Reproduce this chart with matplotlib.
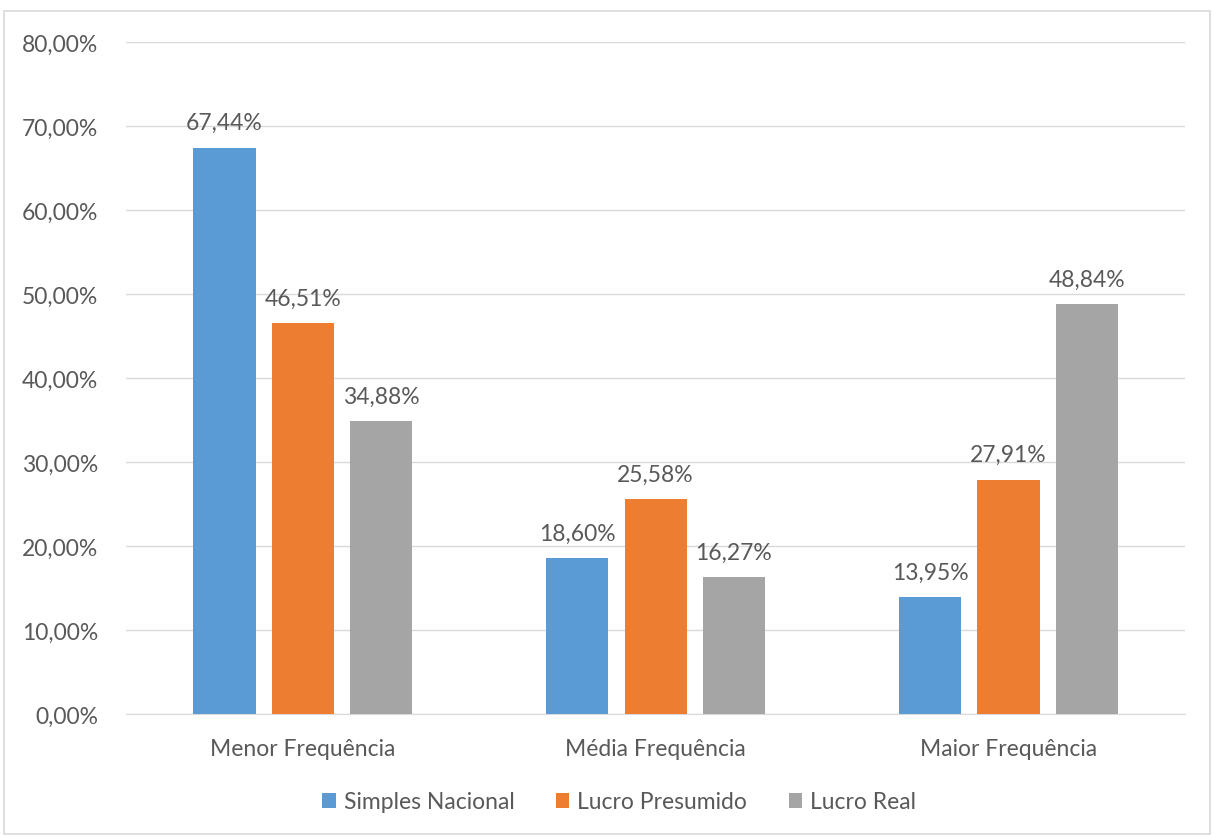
import matplotlib.pyplot as plt
import numpy as np
from matplotlib.patches import Rectangle
from matplotlib.ticker import FuncFormatter

plt.rcParams['font.family'] = ['Lato', 'DejaVu Sans']

# Data
categories = ['Menor Frequência', 'Média Frequência', 'Maior Frequência']
series_names = ['Simples Nacional', 'Lucro Presumido', 'Lucro Real']
simples = [67.44, 18.60, 13.95]
presumido = [46.51, 25.58, 27.91]
real = [34.88, 16.27, 48.84]
colors = ['#5B9BD5', '#ED7D31', '#A5A5A5']

text_color = '#595959'
fs = 16.5

fig = plt.figure(figsize=(12.14, 8.37), dpi=100)
# chart border
fig.patches.append(Rectangle((4 / 1214, 2 / 837), 1206 / 1214, 823 / 837,
                             transform=fig.transFigure, fill=False,
                             edgecolor='#D9D9D9', linewidth=1.2))

ax = fig.add_axes([0.1040, 0.1458, 0.8721, 0.8028])

x = np.arange(len(categories))
width = 0.176
step = 0.2216
for i, (vals, name) in enumerate(zip([simples, presumido, real], series_names)):
    pos = x + (i - 1) * step
    bars = ax.bar(pos, vals, width, color=colors[i], label=name, zorder=3)
    for b, v in zip(bars, vals):
        ax.text(b.get_x() + b.get_width() / 2, v + 1.7,
                f'{v:.2f}'.replace('.', ',') + '%',
                ha='center', va='bottom', fontsize=fs, color=text_color)

ax.set_xlim(-0.5, 2.5)
ax.set_ylim(0, 80)
ax.set_yticks(np.arange(0, 81, 10))
ax.yaxis.set_major_formatter(FuncFormatter(lambda v, p: f'{v:.2f}'.replace('.', ',') + '%'))
ax.set_xticks(x)
ax.set_xticklabels(categories)
ax.grid(axis='y', color='#D9D9D9', linewidth=1, zorder=0)
for s in ['top', 'right', 'left']:
    ax.spines[s].set_visible(False)
ax.spines['bottom'].set_color('#D9D9D9')
ax.tick_params(axis='both', length=0, labelsize=fs, labelcolor=text_color)
ax.tick_params(axis='y', pad=20)
ax.tick_params(axis='x', pad=17)

leg = fig.legend(loc='center', bbox_to_anchor=(0.51, 1 - 803 / 837), ncol=3,
                 frameon=False, fontsize=fs, handlelength=0.6, handleheight=0.6,
                 columnspacing=1.8, handletextpad=0.35)
for t in leg.get_texts():
    t.set_color(text_color)

plt.savefig('out.png', dpi=100)
